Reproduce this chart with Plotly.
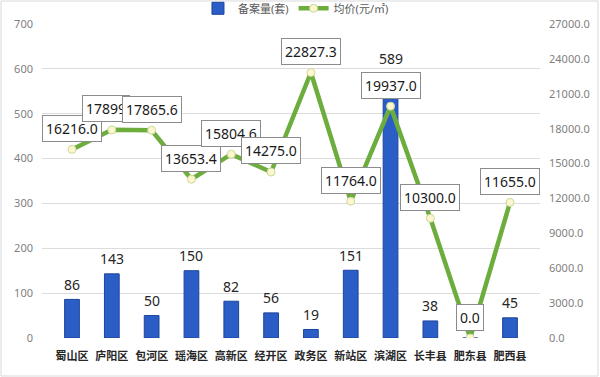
import plotly.graph_objects as go

categories = ["蜀山区", "庐阳区", "包河区", "瑶海区", "高新区", "经开区", "政务区", "新站区", "滨湖区", "长丰县", "肥东县", "肥西县"]
units = [86, 143, 50, 150, 82, 56, 19, 151, 589, 38, 0, 45]
price = [16216.0, 17899, 17865.6, 13653.4, 15804.6, 14275.0, 22827.3, 11764.0, 19937.0, 10300.0, 0.0, 11655.0]
price_labels = ["16216.0", "17899", "17865.6", "13653.4", "15804.6", "14275.0", "22827.3", "11764.0", "19937.0", "10300.0", "0.0", "11655.0"]
left_ticks = [0, 100, 200, 300, 400, 500, 600, 700]
right_ticks = [0, 3000, 6000, 9000, 12000, 15000, 18000, 21000, 24000, 27000]

FONT = "Noto Sans, Noto Sans CJK SC, sans-serif"

fig = go.Figure()
fig.add_trace(go.Bar(
    x=categories, y=units, name="备案量(套)",
    marker=dict(color="#2A5DC6", line=dict(color="#1D449C", width=1)),
    yaxis="y",
))
fig.add_trace(go.Scatter(
    x=categories, y=price, name="均价(元/㎡)", mode="lines+markers",
    line=dict(color="#6CAD3E", width=4.5),
    marker=dict(size=8, color="#FDF6CF", line=dict(color="#C9D99A", width=1)),
    yaxis="y2",
))

annotations = []
for c, v in zip(categories, units):
    if v == 0:
        continue
    annotations.append(dict(
        x=c, y=v, xref="x", yref="y", text=str(v), showarrow=False,
        yanchor="middle", yshift=15,
        font=dict(family=FONT, size=14, color="#262626"),
    ))
for i, (c, v, t) in enumerate(zip(categories, price, price_labels)):
    annotations.append(dict(
        x=c, y=v, xref="x", yref="y2", text=t, showarrow=False,
        yanchor="middle", yshift=21, xshift=(-6 if i == 1 else 0),
        font=dict(family=FONT, size=14, color="#1a1a1a"),
        bgcolor="white", bordercolor="#8c8c8c", borderwidth=1, borderpad=3,
    ))

fig.update_layout(
    width=600, height=377,
    margin=dict(l=42, r=60, t=24, b=39, autoexpand=False),
    paper_bgcolor="white", plot_bgcolor="white",
    font=dict(family=FONT, size=11, color="#595959"),
    bargap=0.63,
    showlegend=True,
    legend=dict(orientation="h", x=0.51, xanchor="center", y=1.05, yanchor="middle",
                font=dict(family=FONT, size=11, color="#595959"),
                bgcolor="rgba(0,0,0,0)", itemwidth=30),
    xaxis=dict(
        showgrid=False, showline=False, ticks="", automargin=False, ticklabelstandoff=10,
        tickfont=dict(family=FONT, size=11, color="#262626", weight="bold"),
    ),
    yaxis=dict(
        range=[0, 700], tickvals=left_ticks, showgrid=True, gridcolor="#DCDCDC", gridwidth=1,
        zeroline=False, showline=False, ticks="", automargin=False, ticklabelstandoff=8,
        tickfont=dict(family=FONT, size=11, color="#7f7f7f"),
    ),
    yaxis2=dict(
        range=[0, 27000], tickvals=right_ticks, overlaying="y", side="right",
        tickformat=".1f", showgrid=False, zeroline=False, showline=False, automargin=False,
        ticklabelstandoff=8,
        tickfont=dict(family=FONT, size=11, color="#7f7f7f"),
    ),
    annotations=annotations,
    shapes=[dict(type="rect", xref="paper", yref="paper",
                 x0=-41/498, x1=556/498, y0=(338-376)/314, y1=(338-1)/314,
                 line=dict(color="#D9D9D9", width=1), layer="below")],
)

fig.write_html("out.html", config={"displayModeBar": False},
               post_script="document.body.style.margin='0';document.body.style.padding='0';")
